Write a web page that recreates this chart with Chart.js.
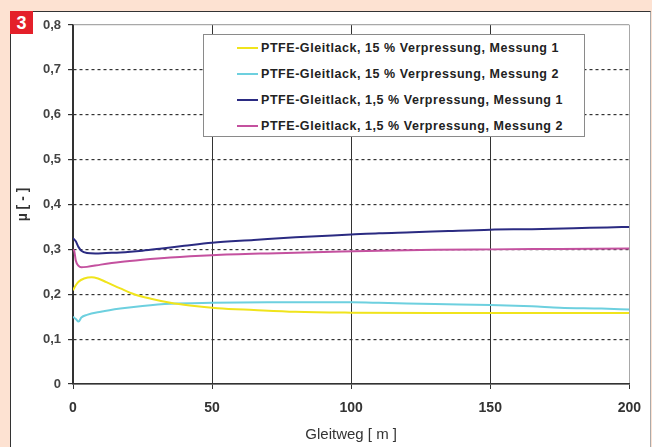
<!DOCTYPE html>
<html><head><meta charset="utf-8">
<script src="https://cdn.jsdelivr.net/npm/chart.js@4/dist/chart.umd.min.js"></script>
<style>
html,body{margin:0;padding:0;}
body{width:652px;height:447px;background:#fde2d2;position:relative;overflow:hidden;font-family:'Liberation Sans',Arial,sans-serif;}
#panel{position:absolute;left:10px;top:11px;width:641px;height:436px;background:#fff;border-top:1px solid #333;border-left:1px solid #333;border-right:1px solid #aaa;box-sizing:border-box;}
#badge{position:absolute;left:10px;top:11px;width:23px;height:23px;background:#e4202a;color:#fff;font:bold 18px 'Liberation Sans',Arial,sans-serif;text-align:center;line-height:24px;}
#wrap{position:absolute;left:0;top:0;width:652px;height:447px;}
#legend{position:absolute;left:203px;top:34px;width:382px;height:103px;background:#fff;border:1px solid #8a8a8a;box-sizing:border-box;}
.item{position:absolute;left:33px;height:20px;white-space:nowrap;font:bold 12.5px 'Liberation Sans',Arial,sans-serif;letter-spacing:0.55px;color:#222;line-height:20px;}
.sw{display:inline-block;width:21px;height:2px;vertical-align:middle;margin-right:3px;position:relative;top:-1px;}
</style>
</head><body>
<div id="panel"></div>
<div id="wrap"><canvas id="c" width="652" height="447"></canvas></div>
<div id="legend"></div>
<div id="badge">3</div>
<script>
// ---- data ----
const seriesNames = [
  'PTFE-Gleitlack, 15 % Verpressung, Messung 1',
  'PTFE-Gleitlack, 15 % Verpressung, Messung 2',
  'PTFE-Gleitlack, 1,5 % Verpressung, Messung 1',
  'PTFE-Gleitlack, 1,5 % Verpressung, Messung 2'
];
const x15m1 = [0, 1, 2, 4, 6.7, 9, 12, 17, 22, 28, 35, 42, 52, 65, 80, 100, 130, 160, 200];
const y15m1 = [0.209, 0.220, 0.228, 0.235, 0.238, 0.235, 0.227, 0.213, 0.200, 0.190, 0.181, 0.175, 0.169, 0.165, 0.161, 0.159, 0.158, 0.158, 0.158];
const x15m2 = [0, 1, 2, 3, 5, 10, 17, 25, 35, 50, 70, 100, 110, 130, 150, 165, 175, 190, 200];
const y15m2 = [0.150, 0.145, 0.139, 0.148, 0.154, 0.161, 0.168, 0.174, 0.179, 0.181, 0.182, 0.182, 0.181, 0.178, 0.176, 0.173, 0.170, 0.168, 0.166];
const x1_5m1 = [0, 1, 2, 3, 5, 8, 12, 17, 25, 32, 40, 50, 65, 80, 100, 110, 122, 135, 150, 165, 180, 192, 200];
const y1_5m1 = [0.325, 0.318, 0.305, 0.297, 0.292, 0.291, 0.292, 0.293, 0.297, 0.302, 0.308, 0.315, 0.321, 0.327, 0.333, 0.336, 0.338, 0.341, 0.344, 0.345, 0.347, 0.349, 0.350];
const x1_5m2 = [0, 0.5, 1, 2, 3, 5, 10, 17, 25, 35, 50, 70, 90, 110, 130, 150, 175, 200];
const y1_5m2 = [0.300, 0.295, 0.275, 0.263, 0.260, 0.261, 0.266, 0.272, 0.277, 0.282, 0.287, 0.291, 0.294, 0.297, 0.299, 0.300, 0.301, 0.302];
const xTicks = [0, 50, 100, 150, 200];
const yTicks = [0, 0.1, 0.2, 0.3, 0.4, 0.5, 0.6, 0.7, 0.8];
const xTitle = 'Gleitweg [ m ]';
const yTitle = 'µ [ - ]';
// ---------------------------------------
const colors = ['#f0e41c', '#6dd0df', '#2b2b82', '#c4519f'];
const xs = [x15m1, x15m2, x1_5m1, x1_5m2];
const ys = [y15m1, y15m2, y1_5m1, y1_5m2];
const datasets = seriesNames.map((n, i) => ({
  label: n,
  data: xs[i].map((x, j) => ({x: x, y: ys[i][j]})),
  borderColor: colors[i],
  backgroundColor: colors[i],
  borderWidth: 2,
  pointRadius: 0,
  cubicInterpolationMode: 'monotone',
  fill: false
}));

const chart = new Chart(document.getElementById('c'), {
  type: 'line',
  data: {datasets: datasets},
  options: {
    responsive: false,
    animation: false,
    events: [],
    layout: {padding: {top: 25, right: 22, left: 0, bottom: 0}},
    plugins: {legend: {display: false}, tooltip: {enabled: false}},
    scales: {
      x: {
        type: 'linear', min: 0, max: 200,
        afterBuildTicks: s => { s.ticks = xTicks.map(v => ({value: v})); },
        ticks: {color: '#333', font: {family: 'Liberation Sans', size: 14, weight: 'bold'}, padding: 11, maxRotation: 0},
        grid: {color: c => (c.tick && c.tick.value === 200) ? '#a8a8a8' : '#333', lineWidth: 1, tickLength: 5, tickColor: '#333'},
        border: {color: '#333', width: 1.5},
        title: {display: true, text: xTitle, color: '#333', font: {family: 'Liberation Sans', size: 15}, padding: {top: 0, bottom: 3}},
        afterFit: s => { s.height = 63; }
      },
      y: {
        min: 0, max: 0.8,
        afterBuildTicks: s => { s.ticks = yTicks.map(v => ({value: v})); },
        ticks: {color: '#444', font: {family: 'Liberation Sans', size: 13, weight: 'bold'}, padding: 7,
          callback: v => v === 0 ? '0' : v.toFixed(1).replace('.', ',')},
        grid: {color: c => (c.tick && c.tick.value >= 0.8) ? '#a8a8a8' : '#333', lineWidth: 1.2, tickLength: 5, tickColor: '#333'},
        border: {color: '#333', width: 1.5, dash: c => (c.tick && c.tick.value > 0 && c.tick.value < 0.8) ? [3, 3] : []},
        title: {display: true, text: yTitle, color: '#333', font: {family: 'Liberation Sans', size: 14, weight: 'bold'}, padding: {top: 15, bottom: 0}},
        afterFit: s => { s.width = 73; }
      }
    }
  }
});

// legend generated from the chart's datasets
const lg = document.getElementById('legend');
chart.data.datasets.forEach((d, i) => {
  const it = document.createElement('div');
  it.className = 'item';
  it.style.top = (3 + i * 26) + 'px';
  const sw = document.createElement('span');
  sw.className = 'sw';
  sw.style.background = d.borderColor;
  it.appendChild(sw);
  it.appendChild(document.createTextNode(d.label));
  lg.appendChild(it);
});
</script>
</body></html>
